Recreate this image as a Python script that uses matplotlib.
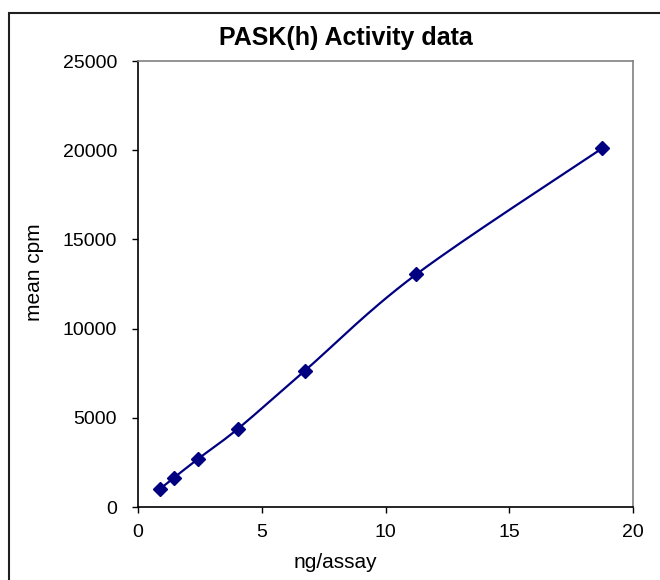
import numpy as np
import matplotlib.pyplot as plt
from matplotlib.patches import Rectangle

### data
ng_assay = [0.875, 1.46, 2.43, 4.05, 6.75, 11.25, 18.75]
mean_cpm = [1000, 1650, 2700, 4400, 7650, 13050, 20100]

plt.rcParams['font.family'] = ['Liberation Sans', 'DejaVu Sans']

W, H = 660, 580


def smooth_line(x, y, n=30):
    '''Excel-style smoothed line: bezier segments through each point'''
    x = np.asarray(x, dtype=float)
    y = np.asarray(y, dtype=float)
    px = np.concatenate([[x[0]], x, [x[-1]]])
    py = np.concatenate([[y[0]], y, [y[-1]]])
    xs, ys = [], []
    t = np.linspace(0, 1, n)
    for i in range(1, len(px) - 2):
        p0 = np.array([px[i], py[i]])
        p3 = np.array([px[i + 1], py[i + 1]])
        p1 = p0 + (np.array([px[i + 1], py[i + 1]]) - np.array([px[i - 1], py[i - 1]])) / 6
        p2 = p3 - (np.array([px[i + 2], py[i + 2]]) - np.array([px[i], py[i]])) / 6
        b = ((1 - t) ** 3)[:, None] * p0 + (3 * (1 - t) ** 2 * t)[:, None] * p1 \
            + (3 * (1 - t) * t ** 2)[:, None] * p2 + (t ** 3)[:, None] * p3
        xs.extend(b[:, 0])
        ys.extend(b[:, 1])
    return xs, ys


fig = plt.figure(figsize=(6.6, 5.8), dpi=100)
# chart frame, only its left and top edges fall inside the picture
fig.patches.append(Rectangle((9 / W, -0.05), 1.1, 1 - 13 / H + 0.05,
                             transform=fig.transFigure, fill=False,
                             edgecolor='#202020', linewidth=1.5))

ax = fig.add_axes([138 / W, 1 - 507 / H, 495 / W, 446 / H])

sx, sy = smooth_line(ng_assay, mean_cpm)
ax.plot(sx, sy, color='#000080', linewidth=1.6)
ax.plot(ng_assay, mean_cpm, linestyle='none', marker='D', markersize=7,
        color='#000080')

ax.set_xlim(0, 20)
ax.set_ylim(0, 25000)
ax.set_xticks([0, 5, 10, 15, 20])
ax.set_yticks([0, 5000, 10000, 15000, 20000, 25000])
ax.tick_params(direction='out', length=4.5, width=1, labelsize=14,
               colors='black')
ax.tick_params(axis='x', pad=8)
ax.tick_params(axis='y', pad=10.5)
ax.spines['left'].set_color('black')
ax.spines['bottom'].set_color('black')
ax.spines['top'].set_color('#808080')
ax.spines['right'].set_color('#808080')
for s in ax.spines.values():
    s.set_linewidth(1.2)

fig.text(335 / W, 1 - 568 / H, 'ng/assay', ha='center', va='baseline',
         fontsize=15)
fig.text(40 / W, 1 - 272 / H, 'mean cpm', ha='center', va='baseline',
         rotation=90, rotation_mode='anchor', fontsize=15)
fig.text(346 / W, 1 - 38 / H, 'PASK(h) Activity data', ha='center',
         va='center', fontsize=18, fontweight='bold')

fig.savefig('out.png', dpi=100)
